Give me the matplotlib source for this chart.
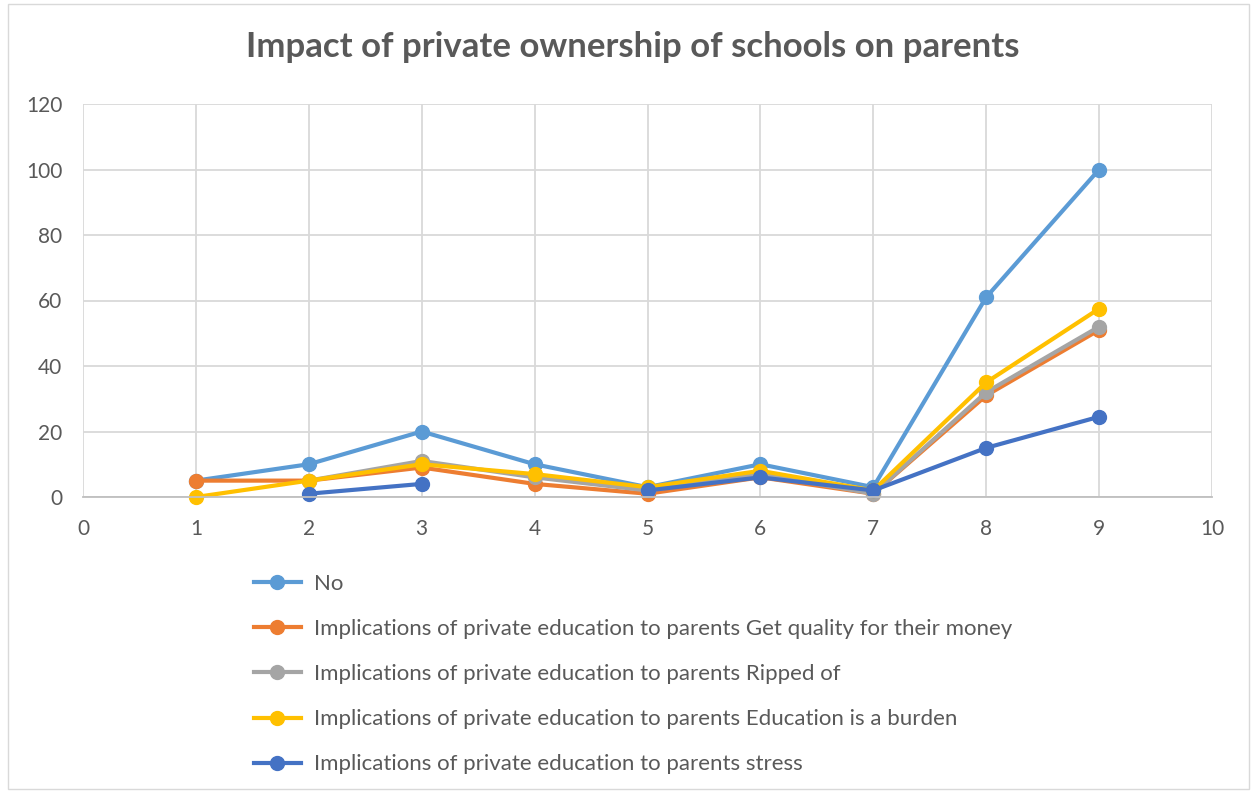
import numpy as np
import matplotlib.pyplot as plt
from matplotlib.patches import Rectangle

plt.rcParams['font.family'] = ['Lato', 'DejaVu Sans']

# survey responses, one value per question item (NaN = no answer)
x = [1, 2, 3, 4, 5, 6, 7, 8, 9]
no_resp = [5, 10, 20, 10, 3, 10, 3, 61, 100]
quality = [5, 5, 9, 4, 1, 6, 1, 31, 51]
ripped = [np.nan, 5, 11, 6, 2, 7, 1, 32, 52]
burden = [0, 5, 10, 7, 3, 8, 2, 35, 57.5]
stress = [np.nan, 1, 4, np.nan, 2, 6, 2, 15, 24.5]

labels = ["No",
          "Implications of private education to parents Get quality for their money",
          "Implications of private education to parents Ripped of",
          "Implications of private education to parents Education is a burden",
          "Implications of private education to parents stress"]
colors = ['#5B9BD5', '#ED7D31', '#A5A5A5', '#FFC000', '#4472C4']

fig = plt.figure(figsize=(12.55, 7.91), dpi=100)
ax = fig.add_axes([83/1255, 1-497/791, (1212-83)/1255, (497-104)/791])

for ys, lab, c in zip([no_resp, quality, ripped, burden, stress], labels, colors):
    ax.plot(x, ys, '-o', color=c, lw=3, ms=10, label=lab, clip_on=False)

ax.set_xlim(0, 10)
ax.set_ylim(0, 120)
ax.set_xticks(range(0, 11))
ax.set_yticks(range(0, 121, 20))
ax.grid(True, color='#D9D9D9', lw=1.3)
ax.set_axisbelow(True)
for s in ['top', 'right', 'left']:
    ax.spines[s].set_visible(False)
ax.spines['bottom'].set_color('#BFBFBF')
ax.spines['bottom'].set_linewidth(1.3)
ax.tick_params(length=0, labelsize=15, labelcolor='#595959')
ax.tick_params(axis='x', pad=16)
ax.tick_params(axis='y', pad=15)

fig.text(0.504, 1-47/791, "Impact of private ownership of schools on parents",
         ha='center', va='center', fontsize=25, fontweight='bold', color='#595959')

fig.legend(loc='upper left', bbox_to_anchor=(254/1255, 1-574/791), frameon=False,
           fontsize=16, labelcolor='#595959', handlelength=2.1, handletextpad=0.6,
           labelspacing=1.13, borderaxespad=0, borderpad=0)

fig.patches.append(Rectangle((8/1255, 2/791), 1241/1255, 785/791, transform=fig.transFigure,
                             fill=False, edgecolor='#D9D9D9', lw=1))

fig.savefig('out.png', dpi=100, facecolor='white')
